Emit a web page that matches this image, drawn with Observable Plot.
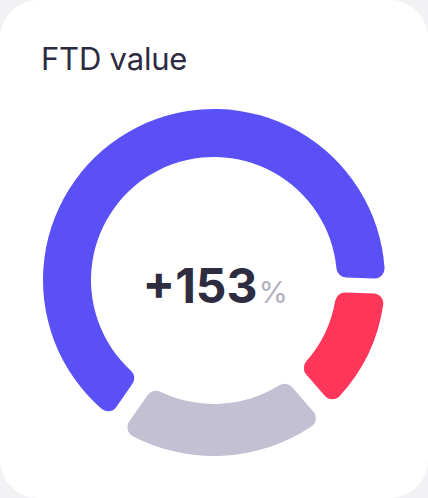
<!DOCTYPE html>
<html>
<head>
<meta charset="utf-8">
<script src="https://cdn.jsdelivr.net/npm/d3@7"></script>
<script src="https://cdn.jsdelivr.net/npm/@observablehq/plot@0.6"></script>
<style>
  html, body { margin: 0; padding: 0; background: #f2f2f5; }
  #card {
    position: relative; width: 428px; height: 498px; background: #ffffff;
    border-radius: 38px; overflow: hidden; font-family: Inter, "Noto Sans", sans-serif;
  }
  #title {
    position: absolute; left: 41px; top: 40px; font-size: 31px; line-height: 38px;
    color: #2c2b3f; font-weight: 400; letter-spacing: -0.2px;
  }
  #chart { position: absolute; left: 0; top: 90px; }
</style>
</head>
<body>
<div id="card">
  <div id="title"></div>
  <div id="chart"></div>
</div>
<script>
// ---- data ----
const title = "FTD value";
const categories = ["Achieved", "Below target", "Remaining"];
const shares = [65.9, 13.0, 21.1];           // share of the ring, %
const colors = ["#5a50f6", "#ff3659", "#c2c0d2"];
const valueLabel = "+153";
const unitLabel = "%";

// ---- geometry (styling, not data) ----
const W = 428, H = 408;
const cxOff = 214, cyOff = 190;
const innerR = 123, outerR = 171;
const hiInnerR = 124, hiOuterR = 176;      // highlighted (grey) segment
const halfGap = 7.5, hiHalfGap = 11.5, cornerR = 10, padR = 147;
const startDeg = -145.1;

document.getElementById("title").textContent = title;

const rows = categories.map((c, i) => ({category: c, share: shares[i]}));

const pie = d3.pie().sort(null).value(d => d.share)
  .startAngle(startDeg * Math.PI / 180)
  .endAngle(startDeg * Math.PI / 180 + 2 * Math.PI);

function renderArcs(index, scales, values) {
  const cx = values.x[index[0]], cy = values.y[index[0]];
  const k = scales.x(1) - scales.x(0);
  const arcs = pie(rows);
  const g = d3.create("svg:g").attr("transform", `translate(${cx},${cy})`);
  for (const i of index) {
    const hi = rows[i].category === "Remaining";
    const a = Object.assign({}, arcs[i], {padAngle: 2 * (hi ? hiHalfGap : halfGap) / padR});
    const arc = d3.arc()
      .innerRadius((hi ? hiInnerR : innerR) * k)
      .outerRadius((hi ? hiOuterR : outerR) * k)
      .cornerRadius(cornerR * k)
      .padRadius(padR * k);
    g.append("path").attr("d", arc(a)).attr("fill", values.fill[i]);
  }
  return g.node();
}

const chart = Plot.plot({
  width: W, height: H,
  margin: 0,
  x: {domain: [-cxOff, W - cxOff], range: [0, W], axis: null},
  y: {domain: [-cyOff, H - cyOff], range: [0, H], axis: null},
  color: {domain: categories, range: colors},
  style: {background: "transparent", fontFamily: "Inter, 'Noto Sans', sans-serif"},
  marks: [
    Plot.dot(rows, {x: () => 0, y: () => 0, fill: "category", render: renderArcs}),
    Plot.text([valueLabel], {x: () => 0, y: () => 0, text: d => d, textAnchor: "end",
      lineAnchor: "bottom", dx: 43, dy: 22, fontSize: 48, fontWeight: 700,
      fill: "#2e2c41", style: "letter-spacing:-1px"}),
    Plot.text([unitLabel], {x: () => 0, y: () => 0, text: d => d, textAnchor: "start",
      lineAnchor: "bottom", dx: 44, dy: 22, fontSize: 30, fontWeight: 400,
      fill: "#b2b1bf"})
  ]
});
document.getElementById("chart").appendChild(chart);
</script>
</body>
</html>
